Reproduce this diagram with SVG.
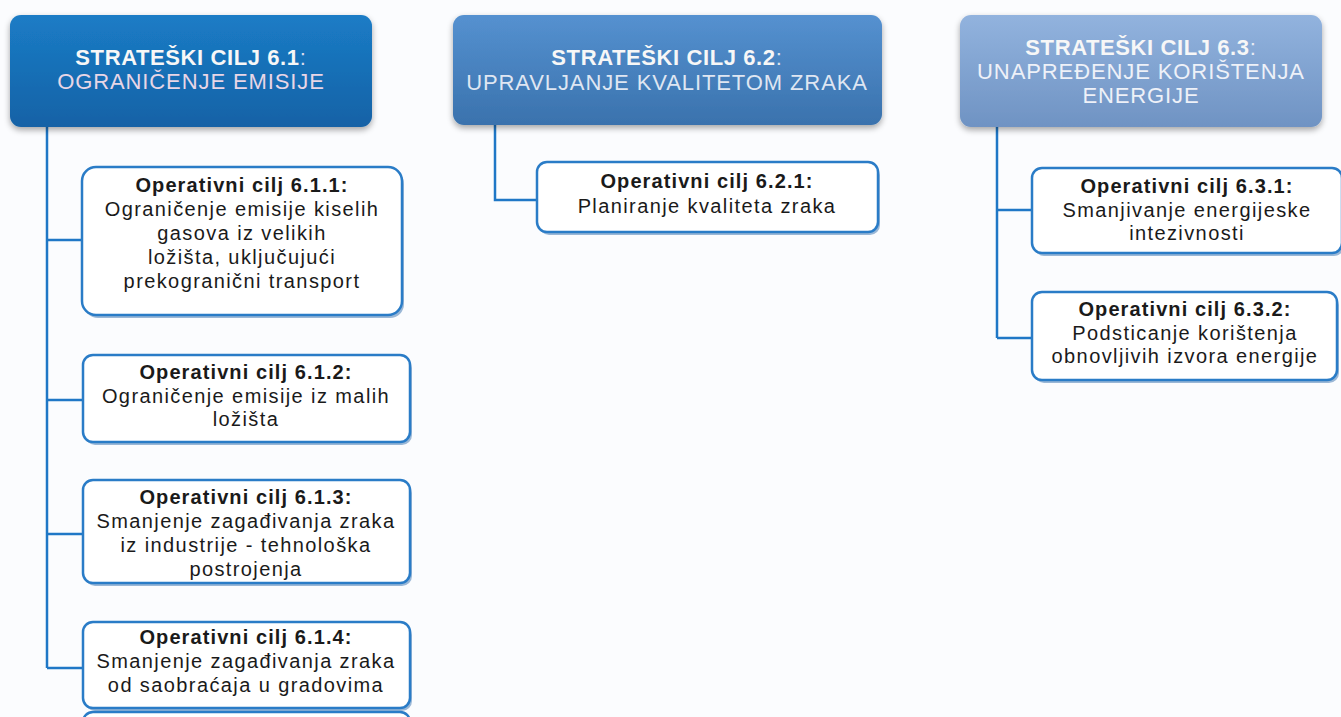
<svg xmlns="http://www.w3.org/2000/svg" width="1341" height="717" viewBox="0 0 1341 717">
<defs>
<linearGradient id="g1" x1="0" y1="0" x2="0" y2="1"><stop offset="0" stop-color="#1b7cc6"/><stop offset="1" stop-color="#1462a6"/></linearGradient>
<linearGradient id="g2" x1="0" y1="0" x2="0" y2="1"><stop offset="0" stop-color="#5591d0"/><stop offset="1" stop-color="#3a72ad"/></linearGradient>
<linearGradient id="g3" x1="0" y1="0" x2="0" y2="1"><stop offset="0" stop-color="#92b3de"/><stop offset="1" stop-color="#6f93c3"/></linearGradient>
<filter id="sh" x="-10%" y="-10%" width="120%" height="140%"><feGaussianBlur in="SourceAlpha" stdDeviation="3"/><feOffset dy="3"/><feComponentTransfer><feFuncA type="linear" slope="0.35"/></feComponentTransfer><feMerge><feMergeNode/><feMergeNode in="SourceGraphic"/></feMerge></filter>
</defs>
<style>
.st{font-family:"Liberation Sans",Arial,sans-serif;font-size:22px;text-anchor:middle;letter-spacing:0.9px}
.stb{font-weight:bold;fill:#f7f7f7;letter-spacing:0.6px}
.op{fill:#ffffff;stroke:#2a7cc7;stroke-width:2.5}
.opsh{fill:#9ab7d6}
.t{font-family:"Liberation Sans",Arial,sans-serif;font-size:20px;text-anchor:middle;fill:#1a1a1a;letter-spacing:1.4px}
.tb{font-weight:bold;letter-spacing:1.1px}
.con{fill:none;stroke:#1f77c6;stroke-width:2.5}
</style>
<rect width="1341" height="717" fill="#fbfcfe"/>
<g id="connectors">
<path class="con" d="M47 127 V668 M47 240 H82 M47 400 H83 M47 534 H83 M47 668 H83"/>
<path class="con" d="M495 125 V200 H537"/>
<path class="con" d="M997 127 V338 M997 210 H1032 M997 338 H1032"/>
</g>
<g id="s61">
<rect x="10" y="15" width="362" height="112" rx="11" fill="url(#g1)" filter="url(#sh)"/>
<text class="st" x="191" y="65"><tspan class="stb">STRATEŠKI CILJ 6.1</tspan><tspan fill="#d8dcee">:</tspan></text>
<text class="st" x="191" y="89" fill="#e8d6e6">OGRANIČENJE EMISIJE</text>
</g>
<g id="s62">
<rect x="453" y="15" width="429" height="110" rx="11" fill="url(#g2)" filter="url(#sh)"/>
<text class="st" x="667" y="65"><tspan class="stb">STRATEŠKI CILJ 6.2</tspan><tspan fill="#dde4f0">:</tspan></text>
<text class="st" x="667" y="90" fill="#dfe6f2">UPRAVLJANJE KVALITETOM ZRAKA</text>
</g>
<g id="s63">
<rect x="960" y="15" width="362" height="112" rx="11" fill="url(#g3)" filter="url(#sh)"/>
<text class="st" x="1141" y="55"><tspan class="stb">STRATEŠKI CILJ 6.3</tspan><tspan fill="#e8ecf5">:</tspan></text>
<text class="st" x="1141" y="79" fill="#eef1f8">UNAPREĐENJE KORIŠTENJA</text>
<text class="st" x="1141" y="103" fill="#eef1f8">ENERGIJE</text>
</g>
<g id="o611">
<rect class="opsh" x="84" y="170" width="320" height="148" rx="14"/>
<rect class="op" x="82" y="167" width="320" height="148" rx="14"/>
<text class="t tb" x="242" y="192">Operativni cilj 6.1.1:</text>
<text class="t" x="242" y="216">Ograničenje emisije kiselih</text>
<text class="t" x="242" y="240">gasova iz velikih</text>
<text class="t" x="242" y="264">ložišta, uključujući</text>
<text class="t" x="242" y="288">prekogranični transport</text>
</g>
<g id="o612">
<rect class="opsh" x="85" y="358" width="327" height="87" rx="10"/>
<rect class="op" x="83" y="355" width="327" height="87" rx="10"/>
<text class="t tb" x="246" y="379">Operativni cilj 6.1.2:</text>
<text class="t" x="246" y="403">Ograničenje emisije iz malih</text>
<text class="t" x="246" y="426">ložišta</text>
</g>
<g id="o613">
<rect class="opsh" x="85" y="483" width="327" height="103" rx="10"/>
<rect class="op" x="83" y="480" width="327" height="103" rx="10"/>
<text class="t tb" x="246" y="504">Operativni cilj 6.1.3:</text>
<text class="t" x="246" y="528">Smanjenje zagađivanja zraka</text>
<text class="t" x="246" y="552">iz industrije - tehnološka</text>
<text class="t" x="246" y="576">postrojenja</text>
</g>
<g id="o614">
<rect class="opsh" x="85" y="625" width="327" height="86" rx="10"/>
<rect class="op" x="83" y="622" width="327" height="86" rx="10"/>
<text class="t tb" x="246" y="644">Operativni cilj 6.1.4:</text>
<text class="t" x="246" y="668">Smanjenje zagađivanja zraka</text>
<text class="t" x="246" y="692">od saobraćaja u gradovima</text>
</g>
<g id="o615">
<rect class="op" x="83" y="712" width="327" height="40" rx="10"/>
</g>
<g id="o621">
<rect class="opsh" x="539" y="165" width="341" height="70" rx="10"/>
<rect class="op" x="537" y="162" width="341" height="70" rx="10"/>
<text class="t tb" x="707" y="188">Operativni cilj 6.2.1:</text>
<text class="t" x="707" y="213">Planiranje kvaliteta zraka</text>
</g>
<g id="o631">
<rect class="opsh" x="1034" y="171" width="310" height="85" rx="10"/>
<rect class="op" x="1032" y="168" width="310" height="85" rx="10"/>
<text class="t tb" x="1187" y="193">Operativni cilj 6.3.1:</text>
<text class="t" x="1187" y="217">Smanjivanje energijeske</text>
<text class="t" x="1187" y="240">intezivnosti</text>
</g>
<g id="o632">
<rect class="opsh" x="1034" y="295" width="305" height="88" rx="10"/>
<rect class="op" x="1032" y="292" width="305" height="88" rx="10"/>
<text class="t tb" x="1185" y="316">Operativni cilj 6.3.2:</text>
<text class="t" x="1185" y="340">Podsticanje korištenja</text>
<text class="t" x="1185" y="363">obnovljivih izvora energije</text>
</g>
</svg>
